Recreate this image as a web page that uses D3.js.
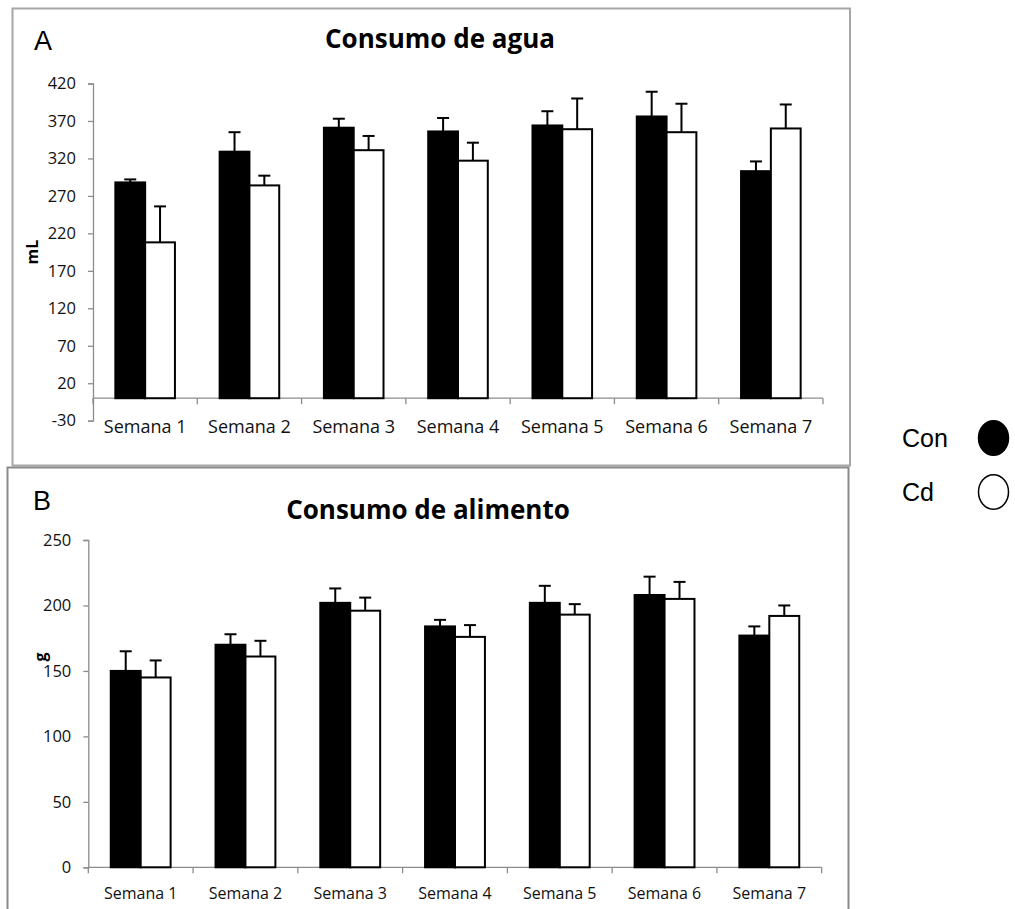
<!DOCTYPE html>
<html>
<head>
<meta charset="utf-8">
<script src="https://cdn.jsdelivr.net/npm/d3@7"></script>
<style>
  html, body { margin: 0; padding: 0; background: #fff; }
  svg { display: block; }
</style>
</head>
<body>
<svg id="chart" width="1015" height="909"></svg>
<script>
// Weekly intake, control (Con) vs cadmium (Cd) groups: mean and SEM
const semanas = ["Semana 1", "Semana 2", "Semana 3", "Semana 4", "Semana 5", "Semana 6", "Semana 7"];

const aguaCon    = [288, 329, 361, 356, 364, 376, 303];
const aguaConErr = [4, 26, 12, 18, 19, 33, 13];
const aguaCd     = [208, 284, 331, 317, 359, 355, 360];
const aguaCdErr  = [48, 13, 19, 24, 41, 38, 32];
const aguaTicks  = [-30, 20, 70, 120, 170, 220, 270, 320, 370, 420];

const alimCon    = [150, 170, 202, 184, 202, 208, 177];
const alimConErr = [15, 8, 11, 5, 13, 14, 7];
const alimCd     = [145, 161, 196, 176, 193, 205, 192];
const alimCdErr  = [13, 12, 10, 9, 8, 13, 8];
const alimTicks  = [0, 50, 100, 150, 200, 250];

const grupos = ["Con", "Cd"];

const svg = d3.select("#chart");
const LABEL_FONT = "'Open Sans', sans-serif";
const ARIAL = "'Liberation Sans', Arial, sans-serif";

function panel(opt) {
  const g = svg.append("g");

  // frame
  g.append("rect")
    .attr("x", opt.frame[0]).attr("y", opt.frame[1])
    .attr("width", opt.frame[2]).attr("height", opt.frame[3])
    .attr("fill", "none").attr("stroke", opt.frameColor).attr("stroke-width", 2);

  // panel letter
  g.append("text")
    .attr("x", opt.letterPos[0]).attr("y", opt.letterPos[1])
    .attr("font-family", ARIAL).attr("font-size", 27)
    .text(opt.letter);

  // title
  g.append("text")
    .attr("x", opt.titlePos[0]).attr("y", opt.titlePos[1])
    .attr("text-anchor", "middle")
    .attr("font-family", LABEL_FONT).attr("font-weight", "bold").attr("font-size", 26)
    .text(opt.title);

  const ticks = opt.ticks;
  const y = d3.scaleLinear()
    .domain([ticks[0], ticks[ticks.length - 1]])
    .range(opt.yRange);
  const x = d3.scaleBand().domain(semanas).range(opt.xRange).padding(0);
  const bw = x.bandwidth() / 3.5;

  // y axis
  const yAxis = g.append("g")
    .attr("transform", `translate(${opt.xRange[0]},0)`)
    .call(d3.axisLeft(y).tickValues(ticks).tickSize(5).tickPadding(12).tickFormat(d => String(d)));
  yAxis.selectAll("path, line").attr("stroke", "#8c8c8c").attr("stroke-width", 1.3);
  yAxis.selectAll("text")
    .attr("font-family", LABEL_FONT).attr("font-size", 16.5).attr("fill", "#111");

  // category axis crossing at zero
  const y0 = y(0);
  g.append("line")
    .attr("x1", opt.xRange[0]).attr("x2", opt.xRange[1])
    .attr("y1", y0).attr("y2", y0)
    .attr("stroke", "#8c8c8c").attr("stroke-width", 1.3);
  const bounds = semanas.map(s => x(s)).concat([opt.xRange[1]]);
  g.selectAll(".xtick").data(bounds).join("line")
    .attr("x1", d => d).attr("x2", d => d)
    .attr("y1", y0).attr("y2", y0 + 6)
    .attr("stroke", "#8c8c8c").attr("stroke-width", 1.3);
  g.selectAll(".xlab").data(semanas).join("text")
    .attr("x", d => x(d) + x.bandwidth() / 2)
    .attr("y", opt.xLabelY)
    .attr("text-anchor", "middle")
    .attr("font-family", LABEL_FONT).attr("font-size", opt.xLabelSize).attr("fill", "#111")
    .text(d => d);

  // y axis title
  g.append("text")
    .attr("transform", `translate(${opt.yTitlePos[0]},${opt.yTitlePos[1]}) rotate(-90)`)
    .attr("text-anchor", "middle")
    .attr("font-family", LABEL_FONT).attr("font-weight", "bold").attr("font-size", 16)
    .text(opt.yTitle);

  const series = [
    { vals: opt.con, err: opt.conErr, off: -1, fill: "#000" },
    { vals: opt.cd,  err: opt.cdErr,  off: 0,  fill: "#fff" }
  ];

  series.forEach(s => {
    const data = semanas.map((sem, i) => ({ sem, v: s.vals[i], e: s.err[i] }));
    const cx = d => x(d.sem) + x.bandwidth() / 2 + s.off * bw + bw / 2;

    // error bars (upper only)
    g.selectAll(null).data(data).join("line")
      .attr("x1", cx).attr("x2", cx)
      .attr("y1", d => y(d.v)).attr("y2", d => y(d.v + d.e))
      .attr("stroke", "#000").attr("stroke-width", 2);
    g.selectAll(null).data(data).join("line")
      .attr("x1", d => cx(d) - 6).attr("x2", d => cx(d) + 6)
      .attr("y1", d => y(d.v + d.e)).attr("y2", d => y(d.v + d.e))
      .attr("stroke", "#000").attr("stroke-width", 2);

    // bars
    g.selectAll(null).data(data).join("rect")
      .attr("x", d => x(d.sem) + x.bandwidth() / 2 + s.off * bw)
      .attr("y", d => y(d.v))
      .attr("width", bw)
      .attr("height", d => y0 - y(d.v))
      .attr("fill", s.fill)
      .attr("stroke", "#000").attr("stroke-width", 2);
  });
}

panel({
  frame: [12.5, 8.5, 837.5, 457], frameColor: "#a6a6a6",
  letter: "A", letterPos: [34, 50],
  title: "Consumo de agua", titlePos: [440, 48],
  ticks: aguaTicks, yRange: [420.7, 83.5], xRange: [93, 823],
  xLabelY: 433, xLabelSize: 18,
  yTitle: "mL", yTitlePos: [38, 252],
  con: aguaCon, conErr: aguaConErr, cd: aguaCd, cdErr: aguaCdErr
});

panel({
  frame: [7.5, 467.5, 841, 460], frameColor: "#8a8a8a",
  letter: "B", letterPos: [33, 510],
  title: "Consumo de alimento", titlePos: [428, 519],
  ticks: alimTicks, yRange: [867.3, 540], xRange: [88.3, 821.7],
  xLabelY: 899, xLabelSize: 16,
  yTitle: "g", yTitlePos: [46, 657],
  con: alimCon, conErr: alimConErr, cd: alimCd, cdErr: alimCdErr
});

// legend
const legend = svg.append("g");
const legendY = [438, 492];
legend.selectAll("text").data(grupos).join("text")
  .attr("x", 902).attr("y", (d, i) => legendY[i] + 9)
  .attr("font-family", ARIAL).attr("font-size", 25)
  .text(d => d);
legend.selectAll("ellipse").data(grupos).join("ellipse")
  .attr("cx", 993.5).attr("cy", (d, i) => legendY[i])
  .attr("rx", 15).attr("ry", 17.3)
  .attr("fill", (d, i) => i === 0 ? "#000" : "#fff")
  .attr("stroke", "#000").attr("stroke-width", 1.5);
</script>
</body>
</html>
